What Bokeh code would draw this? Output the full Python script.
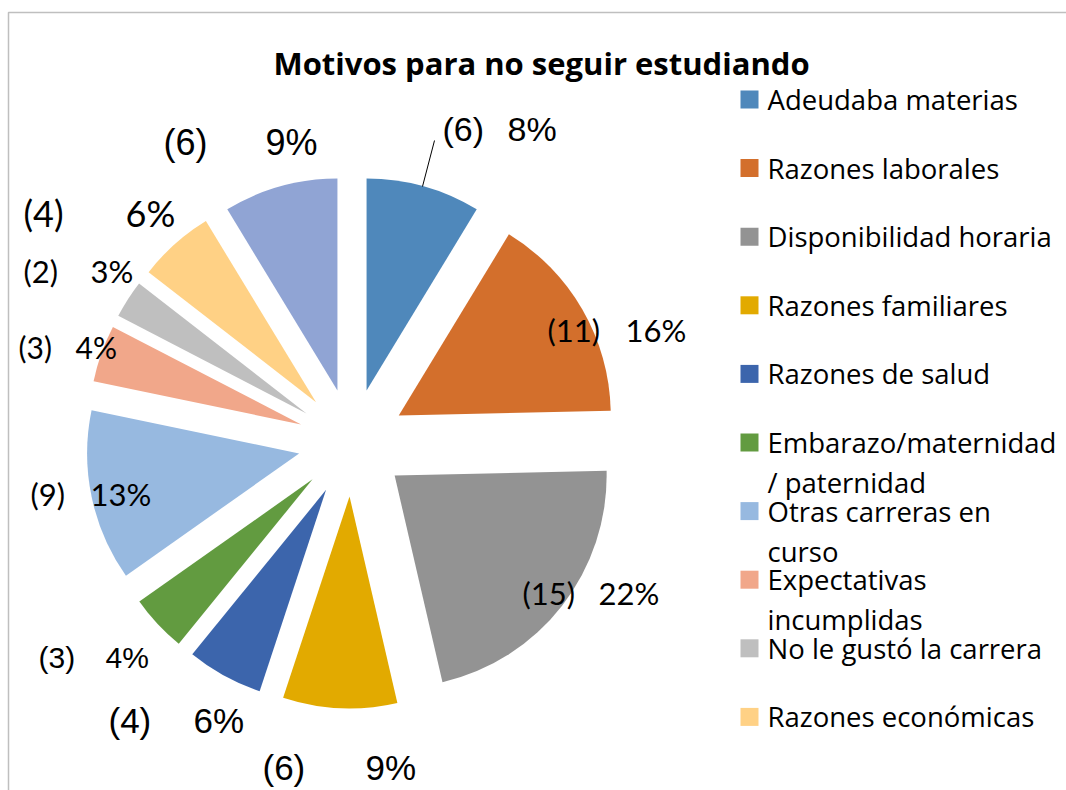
from bokeh.plotting import figure
from bokeh.models import Range1d
from bokeh.core.properties import value
from bokeh.embed import file_html
from bokeh.resources import INLINE
import numpy as np

# ---------------- data ----------------
categories = [
    "Adeudaba materias",
    "Razones laborales",
    "Disponibilidad horaria",
    "Razones familiares",
    "Razones de salud",
    "Embarazo/maternidad / paternidad",
    "Otras carreras en curso",
    "Expectativas incumplidas",
    "No le gustó la carrera",
    "Razones económicas",
    "Otros",
]
counts = [6, 11, 15, 6, 4, 3, 9, 3, 2, 4, 6]
percent_labels = [8, 16, 22, 9, 6, 4, 13, 4, 3, 6, 9]
legend_lines = [
    ["Adeudaba materias"],
    ["Razones laborales"],
    ["Disponibilidad horaria"],
    ["Razones familiares"],
    ["Razones de salud"],
    ["Embarazo/maternidad", "/ paternidad"],
    ["Otras carreras en", "curso"],
    ["Expectativas", "incumplidas"],
    ["No le gustó la carrera"],
    ["Razones económicas"],
]
title_text = "Motivos para no seguir estudiando"

# ---------------- styles ----------------
colors = ["#4F88BB", "#D36F2C", "#939393", "#E2AA00", "#3C65AC", "#629B40",
          "#97B9E0", "#F1A78A", "#BFBFBF", "#FFD185", "#90A4D4"]

W, H = 1066, 790
def Y(py):
    return H - py

p = figure(width=W, height=H, x_range=Range1d(0, W), y_range=Range1d(0, H),
           output_backend="svg", toolbar_location=None, min_border=0,
           background_fill_color="white", border_fill_color="white")
p.axis.visible = False
p.grid.visible = False
p.outline_line_color = None

# chart border (top & left visible)
p.line(x=[8, 8, W + 5], y=[Y(795), Y(12), Y(12)], line_color="#BFBFBF", line_width=1.5)

# ---------------- pie ----------------
cx, cy = 351.5, Y(442)
radius = 212
explode = 54
vals = np.array(counts, dtype=float)
total = vals.sum()
cum = np.concatenate([[0], np.cumsum(vals)])
start = np.pi / 2 - 2 * np.pi * cum[:-1] / total
end = np.pi / 2 - 2 * np.pi * cum[1:] / total
mid = (start + end) / 2
xs = cx + explode * np.cos(mid)
ys = cy + explode * np.sin(mid)
p.wedge(x=xs, y=ys, radius=radius, start_angle=start, end_angle=end,
        direction="clock", fill_color=colors, line_color=None)

# ---------------- data labels (annotation layout) ----------------
# (count_x, pct_x, center_y, font, size)
label_layout = [
    (442, 507, 128, "Liberation Sans", 34),
    (547, 625, 329, "Lato", 31),
    (522, 598, 592, "Lato", 31),
    (262, 365, 767, "Liberation Sans", 35),
    (108, 193, 720, "Liberation Sans", 35),
    (38, 105, 657, "Liberation Sans", 30),
    (30, 90, 493, "Lato", 31),
    (18, 75, 346, "Lato", 30),
    (23, 90, 270, "Lato", 31),
    (23, 125, 212, "Lato", 36),
    (163, 265, 142, "Liberation Sans", 36),
]
for i, (lx, px, ly, fnt, fs) in enumerate(label_layout):
    p.text(x=[lx], y=[Y(ly)], text=[f"({counts[i]})"], text_font=value(fnt),
           text_font_size=f"{fs}px", text_baseline="middle", text_align="left",
           text_color="black")
    p.text(x=[px], y=[Y(ly)], text=[f"{percent_labels[i]}%"], text_font=value(fnt),
           text_font_size=f"{fs}px", text_baseline="middle", text_align="left",
           text_color="black")

# leader line for first slice
p.line(x=[422, 434], y=[Y(186), Y(140)], line_color="black", line_width=1)

# ---------------- title ----------------
p.text(x=[541], y=[Y(62)], text=[title_text], text_font=value("Open Sans"),
       text_font_style="bold", text_font_size="31px", text_align="center",
       text_baseline="middle", text_color="black")

# ---------------- legend ----------------
leg_x_sq = 749
leg_x_txt = 767
leg_y0 = 99
leg_step = 68.6
line_gap = 40
for i, lines in enumerate(legend_lines):
    yc = leg_y0 + i * leg_step
    p.rect(x=[leg_x_sq], y=[Y(yc)], width=18, height=18, fill_color=colors[i], line_color=None)
    for j, t in enumerate(lines):
        p.text(x=[leg_x_txt], y=[Y(yc + j * line_gap)], text=[t], text_font=value("Open Sans"),
               text_font_size="27.5px", text_baseline="middle", text_align="left",
               text_color="black")

open("out.html", "w").write(file_html(p, INLINE))
